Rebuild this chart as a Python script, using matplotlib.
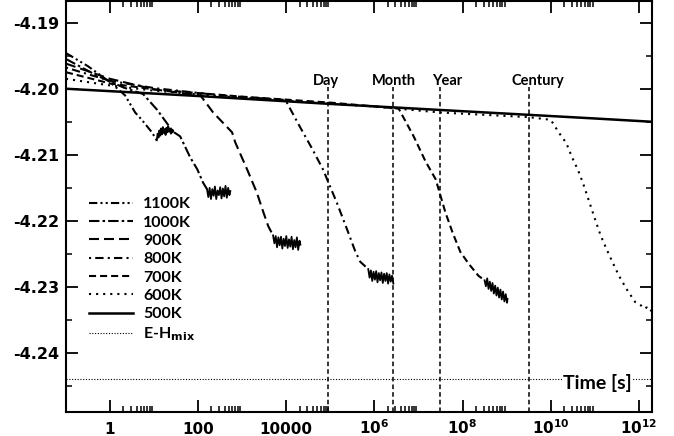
import matplotlib
matplotlib.use("Agg")
import matplotlib.pyplot as plt
import numpy as np

plt.rcParams['axes.unicode_minus'] = False

# ---------------- data (log10 time [s], energy) ----------------
labels = ["1100K", "1000K", "900K", "800K", "700K", "600K", "500K"]

lt_1100 = [-1, -0.5, 0, 0.34, 0.42, 0.57, 0.72, 0.95, 1.06]
e_1100 = [-4.1946, -4.1966, -4.1990, -4.2010, -4.2019, -4.2036, -4.2047, -4.2066, -4.2078]
ltn_1100 = [1.06, 1.08, 1.10, 1.12, 1.14, 1.16, 1.18, 1.20, 1.22, 1.24, 1.26, 1.28, 1.30,
            1.32, 1.34, 1.36, 1.38, 1.40, 1.42, 1.43]
en_1100 = [-4.2078, -4.2068, -4.2074, -4.2063, -4.2071, -4.2060, -4.2069, -4.2058, -4.2067,
           -4.2061, -4.2070, -4.2059, -4.2066, -4.2057, -4.2065, -4.2060, -4.2068, -4.2062,
           -4.2066, -4.2063]

lt_1000 = [-1, -0.3, 0.3, 0.75, 1.07, 1.43, 1.59, 1.82, 1.98, 2.11, 2.2]
e_1000 = [-4.1955, -4.1980, -4.1998, -4.2008, -4.2032, -4.2065, -4.2072, -4.2104, -4.2122,
          -4.2142, -4.2152]
ltn_1000 = [2.20, 2.23, 2.26, 2.29, 2.32, 2.35, 2.38, 2.41, 2.44, 2.47, 2.50, 2.53, 2.56,
            2.59, 2.62, 2.65, 2.68, 2.71, 2.73]
en_1000 = [-4.2152, -4.2164, -4.2150, -4.2167, -4.2152, -4.2162, -4.2148, -4.2167, -4.2154,
           -4.2161, -4.2149, -4.2166, -4.2151, -4.2163, -4.2147, -4.2165, -4.2150, -4.2161,
           -4.2155]

lt_900 = [-1, 0, 1, 2.05, 2.34, 2.77, 2.84, 3.11, 3.33, 3.48, 3.59, 3.7]
e_900 = [-4.1962, -4.1985, -4.2001, -4.2010, -4.2036, -4.2066, -4.2081, -4.2122, -4.2157,
         -4.2187, -4.2208, -4.2222]
ltn_900 = [3.70, 3.73, 3.76, 3.79, 3.82, 3.85, 3.88, 3.91, 3.94, 3.97, 4.00, 4.03, 4.06,
           4.09, 4.12, 4.15, 4.18, 4.21, 4.24, 4.27, 4.30, 4.32]
en_900 = [-4.2222, -4.2234, -4.2223, -4.2240, -4.2225, -4.2237, -4.2224, -4.2242, -4.2227,
          -4.2238, -4.2223, -4.2241, -4.2228, -4.2239, -4.2224, -4.2243, -4.2229, -4.2240,
          -4.2225, -4.2244, -4.2230, -4.2236]

lt_800 = [-1, 0, 1, 2.5, 3.98, 4.32, 4.58, 4.84, 4.95, 5.15, 5.38, 5.57, 5.68, 5.86]
e_800 = [-4.1968, -4.1988, -4.1999, -4.2010, -4.2017, -4.2059, -4.2090, -4.2123, -4.2141,
         -4.2173, -4.2213, -4.2247, -4.2262, -4.2273]
ltn_800 = [5.86, 5.89, 5.92, 5.95, 5.98, 6.01, 6.04, 6.07, 6.10, 6.13, 6.16, 6.19, 6.22,
           6.25, 6.28, 6.31, 6.34, 6.37, 6.40, 6.43]
en_800 = [-4.2273, -4.2286, -4.2275, -4.2291, -4.2277, -4.2289, -4.2276, -4.2293, -4.2279,
          -4.2290, -4.2278, -4.2294, -4.2280, -4.2291, -4.2279, -4.2295, -4.2281, -4.2292,
          -4.2283, -4.2295]

lt_700 = [-1, 0, 1, 3, 5, 6.55, 6.89, 7.16, 7.39, 7.5, 7.61, 7.77, 7.95, 8.14, 8.36, 8.5]
e_700 = [-4.1975, -4.1992, -4.2001, -4.2012, -4.2021, -4.2030, -4.2072, -4.2110, -4.2137,
         -4.2162, -4.2187, -4.2217, -4.2247, -4.2265, -4.2283, -4.2290]
ltn_700 = [8.50, 8.53, 8.56, 8.59, 8.62, 8.65, 8.68, 8.71, 8.74, 8.77, 8.80, 8.83, 8.86,
           8.89, 8.92, 8.95, 8.98, 9.01, 9.02]
en_700 = [-4.2290, -4.2299, -4.2287, -4.2303, -4.2292, -4.2306, -4.2294, -4.2310, -4.2298,
          -4.2313, -4.2301, -4.2316, -4.2304, -4.2319, -4.2307, -4.2322, -4.2311, -4.2324,
          -4.2318]

lt_600 = [-1, 0, 1, 3, 6, 7.5, 9.5, 10.0, 10.09, 10.18, 10.27, 10.36, 10.48, 10.62, 10.73,
          10.83, 10.93, 11.03, 11.14, 11.27, 11.4, 11.55, 11.72, 11.92, 12.05, 12.12, 12.18,
          12.24, 12.3]
e_600 = [-4.1985, -4.1995, -4.2003, -4.2014, -4.2027, -4.2036, -4.2043, -4.2047, -4.2056,
         -4.2066, -4.2074, -4.2083, -4.2103, -4.2123, -4.2142, -4.2162, -4.2182, -4.2202,
         -4.2223, -4.2243, -4.2262, -4.2283, -4.2303, -4.2323, -4.2328, -4.2333, -4.2331,
         -4.2337, -4.2335]

lt_500 = [-1, 2, 5, 8, 11, 12.3]
e_500 = [-4.2000, -4.2011, -4.2023, -4.2034, -4.2045, -4.2050]

e_hmix = -4.2440

marker_names = ["Day", "Month", "Year", "Century"]
marker_times = [86400.0, 2.6e6, 3.156e7, 3.156e9]

xtick_vals = [1, 1e2, 1e4, 1e6, 1e8, 1e10, 1e12]
xtick_labels = ["1", "100", "10000", r"$\mathbf{10^{6}}$", r"$\mathbf{10^{8}}$",
                r"$\mathbf{10^{10}}$", r"$\mathbf{10^{12}}$"]
ytick_vals = [-4.19, -4.20, -4.21, -4.22, -4.23, -4.24]
ytick_labels = ["-4.19", "-4.20", "-4.21", "-4.22", "-4.23", "-4.24"]
ytick_minor = [-4.245, -4.235, -4.225, -4.215, -4.205, -4.195]

# ---------------- styles ----------------
styles = {
    "1100K": (0, (4, 1.5, 1, 1.5, 1, 1.5)),
    "1000K": (0, (5, 1.5, 1.2, 1.5)),
    "900K": (0, (4.8, 2.4)),
    "800K": (0, (1, 2, 4, 2)),
    "700K": (0, (3.4, 1.9)),
    "600K": (0, (1, 2.4)),
    "500K": "-",
}

fig = plt.figure(figsize=(6.74, 4.36), dpi=100)
ax = fig.add_axes([66 / 674, 24 / 436, 586 / 674, 411 / 436])
ax.set_xscale("log")

lw = 1.5
curves = [
    ("1100K", lt_1100, e_1100, ltn_1100, en_1100),
    ("1000K", lt_1000, e_1000, ltn_1000, en_1000),
    ("900K", lt_900, e_900, ltn_900, en_900),
    ("800K", lt_800, e_800, ltn_800, en_800),
    ("700K", lt_700, e_700, ltn_700, en_700),
    ("600K", lt_600, e_600, None, None),
    ("500K", lt_500, e_500, None, None),
]
handles = []
for name, lt, e, ltn, en in curves:
    h, = ax.plot(10.0 ** np.array(lt), e, color="black", lw=lw if name != "500K" else 1.8,
                 linestyle=styles[name], label=name)
    handles.append(h)
    if ltn is not None:
        ax.plot(10.0 ** np.array(ltn), en, color="black", lw=1.3, linestyle="-")

hm = ax.axhline(e_hmix, color="black", lw=0.8, linestyle=(0, (1, 1.5)),
                label=r"E-H$_{\mathbf{mix}}$")
handles.append(hm)

ymin, ymax = -4.24893, -4.18672

# time markers
line_top = -4.1997
offsets = [-1, 1, 5, 7]
for name, t, off in zip(marker_names, marker_times, offsets):
    ax.plot([t, t], [ymin, line_top], color="black", lw=1.1, linestyle=(0, (3, 2)))
    ax.annotate(name, xy=(t, -4.1994), xytext=(off, 0), textcoords="offset points",
                ha="center", va="baseline", fontsize=10.5, fontweight="bold", family="Lato")

# ticks
ax.set_xticks(xtick_vals)
ax.set_xticklabels(xtick_labels)
minor_x = [k * 10.0 ** e for e in range(0, 12, 2) for k in range(2, 10)]
ax.set_xticks(minor_x, minor=True)
ax.set_xticklabels([], minor=True)
ax.set_yticks(ytick_vals)
ax.set_yticklabels(ytick_labels)
ax.set_yticks(ytick_minor, minor=True)

ax.set_xlim(10 ** -1, 10 ** 12.3)
ax.set_ylim(ymin, ymax)

ax.tick_params(which="major", direction="in", length=8.5, width=1.3, top=True, right=True,
               labelsize=11)
ax.tick_params(axis="y", which="major", pad=5, labelsize=11.5)
ax.tick_params(axis="x", which="major", pad=15.5)
ax.tick_params(which="minor", direction="in", length=4.5, width=1.1, top=True, right=True)
for lab in ax.get_xticklabels():
    lab.set_verticalalignment("baseline")
for lab in ax.get_xticklabels() + ax.get_yticklabels():
    lab.set_fontweight("bold")
    lab.set_family("DejaVu Sans")
for s in ax.spines.values():
    s.set_linewidth(1.5)

leg = ax.legend(handles=handles, loc="upper left", bbox_to_anchor=(0.04, 0.523),
                frameon=False, prop={"family": "Lato", "weight": "bold", "size": 11.5},
                handlelength=2.7, handletextpad=0.65, labelspacing=0.26, borderpad=0,
                borderaxespad=0)

ax.text(0.906, 0.0706, "Time [s]", transform=ax.transAxes, ha="center", va="center",
        fontsize=14, fontweight="bold", family="Lato",
        bbox=dict(facecolor="white", edgecolor="none", pad=0.5))

fig.savefig("out.png", dpi=100)
